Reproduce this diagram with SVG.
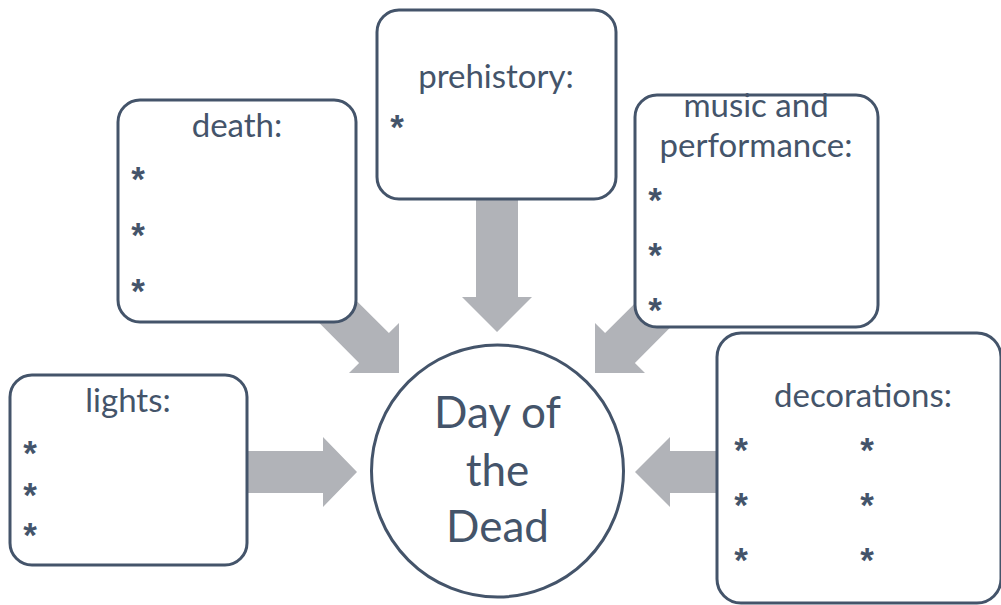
<svg xmlns="http://www.w3.org/2000/svg" width="1001" height="605" viewBox="0 0 1001 605">
<style>
.box{fill:#ffffff;stroke:#44546a;stroke-width:3}
.arrow{fill:#b1b3b8}
.lbl{font-family:Lato,"Open Sans",sans-serif;font-size:33px;fill:#44546a;text-anchor:middle}
.star{font-family:"Liberation Sans",Arial,sans-serif;font-weight:bold;font-size:35px;fill:#44546a;text-anchor:middle}
.big{font-family:Lato,"Open Sans",sans-serif;font-size:44px;fill:#44546a;text-anchor:middle}
</style>
<rect width="1001" height="605" fill="#ffffff"/>
<g id="connectors">
<polygon class="arrow" points="476,195 518,195 518,297 532,297 497,332 462,297 476,297"/>
<polygon class="arrow" points="334.85,279.15 388.9,333.1 399,323 399,373 349,373 359.1,362.9 305.15,308.85"/>
<polygon class="arrow" points="659.15,279.15 605.1,333.1 595,323 595,373 645,373 634.9,362.9 688.85,308.85"/>
<polygon class="arrow" points="246,451 323,451 323,437 357,472 323,507 323,493 246,493"/>
<polygon class="arrow" points="719,451 670,451 670,437 635,472 670,507 670,493 719,493"/>
</g>
<g id="death">
<rect class="box" x="118" y="100" width="238" height="222" rx="22"/>
<text class="lbl" x="237" y="137">death:</text>
<text class="star" x="138" y="191">*</text>
<text class="star" x="138" y="247">*</text>
<text class="star" x="138" y="303">*</text>
</g>
<g id="prehistory">
<rect class="box" x="377" y="10" width="239" height="189" rx="22"/>
<text class="lbl" x="496" y="88">prehistory:</text>
<text class="star" x="397" y="139">*</text>
</g>
<g id="music">
<rect class="box" x="635" y="95" width="243" height="232" rx="22"/>
<text class="lbl" x="756" y="117">music and</text>
<text class="lbl" x="756" y="157">performance:</text>
<text class="star" x="655" y="212">*</text>
<text class="star" x="655" y="267">*</text>
<text class="star" x="655" y="322">*</text>
</g>
<g id="lights">
<rect class="box" x="10" y="375" width="237" height="190" rx="22"/>
<text class="lbl" x="128" y="412">lights:</text>
<text class="star" x="30" y="465">*</text>
<text class="star" x="30" y="507">*</text>
<text class="star" x="30" y="547">*</text>
</g>
<g id="decorations">
<rect class="box" x="717" y="333" width="284" height="270" rx="24"/>
<text class="lbl" x="863" y="407">decorations:</text>
<text class="star" x="741" y="462">*</text>
<text class="star" x="867" y="462">*</text>
<text class="star" x="741" y="517">*</text>
<text class="star" x="867" y="517">*</text>
<text class="star" x="741" y="572">*</text>
<text class="star" x="867" y="572">*</text>
</g>
<g id="center">
<circle class="box" cx="497.5" cy="471" r="126"/>
<text class="big" x="497.5" y="428">Day of</text>
<text class="big" x="497.5" y="486">the</text>
<text class="big" x="497.5" y="542">Dead</text>
</g>
</svg>
